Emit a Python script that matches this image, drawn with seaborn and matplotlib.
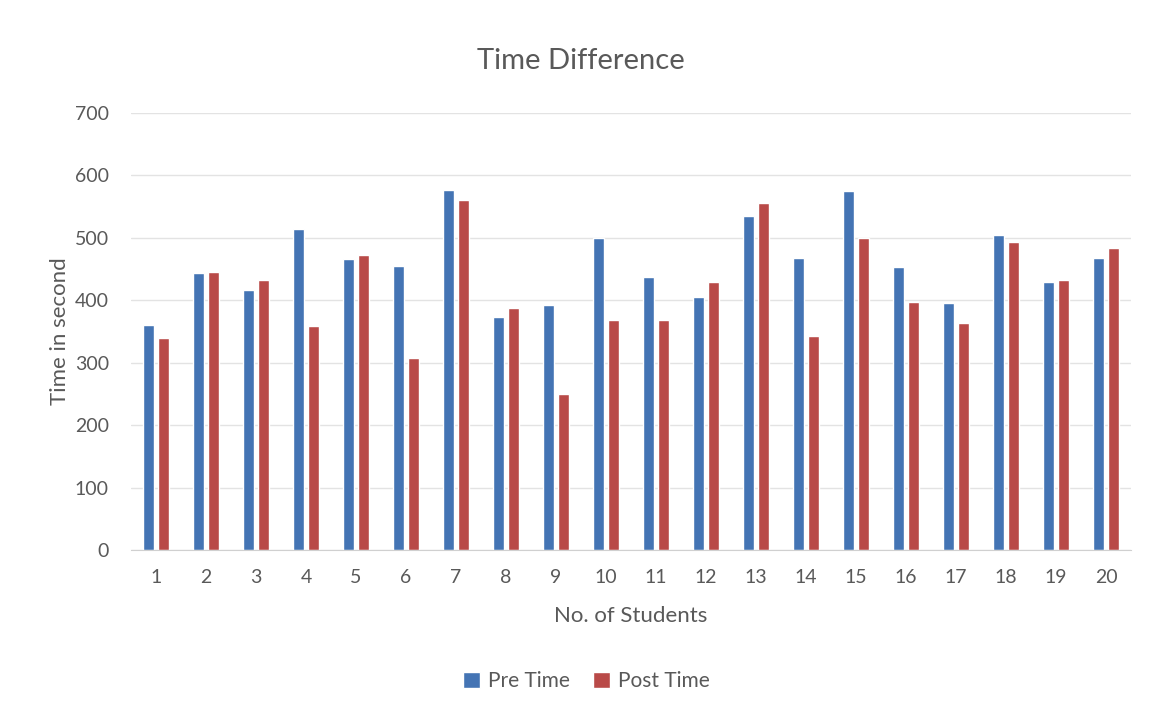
import pandas as pd
import matplotlib.pyplot as plt
import seaborn as sns

# datos
students = [str(i) for i in range(1, 21)]
pre_time = [361, 443, 417, 514, 466, 455, 576, 373, 392, 500,
            438, 405, 535, 468, 575, 453, 395, 504, 430, 467]
post_time = [339, 445, 432, 359, 472, 308, 560, 388, 250, 368,
             369, 430, 556, 343, 499, 397, 363, 494, 433, 483]
series = ['Pre Time', 'Post Time']
colors = ['#4474B4', '#B94A48']

df = pd.DataFrame({
    'Student': students * 2,
    'Time': pre_time + post_time,
    'Serie': [series[0]] * 20 + [series[1]] * 20,
})

sns.set_style('white')
plt.rcParams['font.family'] = ['Lato', 'DejaVu Sans']
txt = '#595959'

fig = plt.figure(figsize=(11.5, 7.15), dpi=100)
ax = fig.add_axes([131 / 1150, 1 - 550 / 715, 1000 / 1150, 437 / 715])

sns.barplot(data=df, x='Student', y='Time', hue='Serie', palette=colors,
            width=0.6, gap=0.25, order=students, hue_order=series,
            saturation=1, ax=ax)

ax.set_ylim(0, 700)
ax.set_yticks(range(0, 701, 100))
ax.yaxis.grid(True, color='#E3E3E3', linewidth=1)
ax.set_axisbelow(True)
for s in ['top', 'right', 'left']:
    ax.spines[s].set_visible(False)
ax.spines['bottom'].set_color('#D0D0D0')
ax.tick_params(axis='both', length=0, labelsize=14, colors=txt)
ax.tick_params(axis='y', pad=16)
ax.tick_params(axis='x', pad=14)

fig.suptitle('Time Difference', fontsize=21, color=txt, x=0.505, y=1 - 61 / 715,
             va='center')
ax.set_xlabel('No. of Students', fontsize=16, color=txt, labelpad=14)
ax.set_ylabel('Time in second', fontsize=16, color=txt, labelpad=3)

ax.legend(loc='center', bbox_to_anchor=(0.51, 1 - 681 / 715),
          bbox_transform=fig.transFigure, ncol=2,
          frameon=False, fontsize=15, labelcolor=txt, handlelength=0.8,
          handleheight=0.8, handletextpad=0.4, columnspacing=1.1)

fig.savefig('out.png', dpi=100)
